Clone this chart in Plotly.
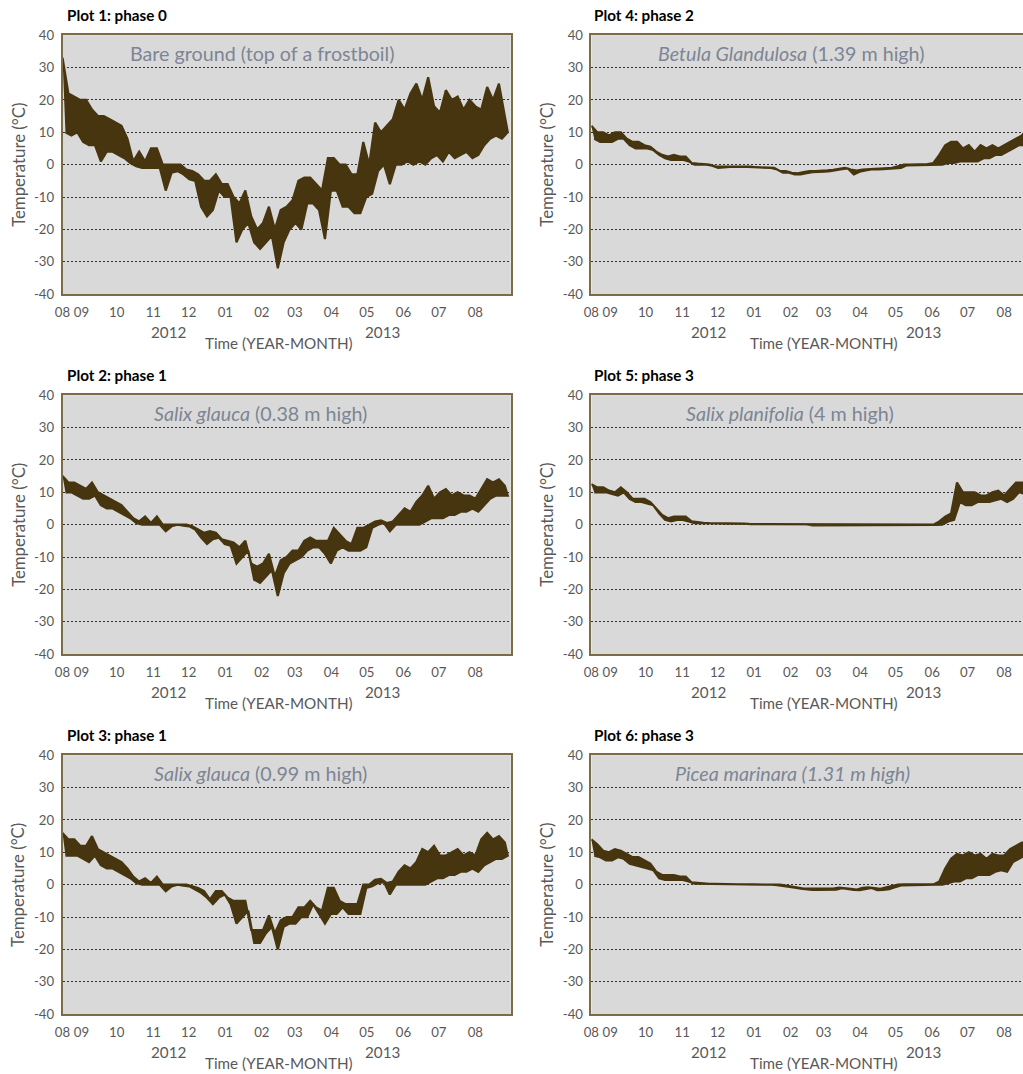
import pandas as pd
import plotly.graph_objects as go

# ---------------------------------------------------------------------------
# Near-surface temperature records, Aug 2012 - Aug 2013.
# Each record is summarised as the high and the low reached in successive
# 5-day windows starting on 2012-08-16; the trace is the band between them.
# ---------------------------------------------------------------------------
SERIES_START = "2012-08-16"
WINDOW_DAYS = 5

# Plot 1: bare ground (top of a frostboil)
P1_HI = [33, 22, 21, 20, 20, 17, 15, 15, 14, 13,
         12, 8, 1, 4, 1, 5, 5, 0, 0, 0,
         0, -1.5, -2, -3, -5, -5, -3, -6, -6, -10,
         -12, -8, -16, -20, -18, -13, -20, -14, -13, -11,
         -5, -4, -4, -6, -8, 2, 2, 0, 0, -3,
         -3, 7, 0, 13, 10, 12, 14, 20, 17, 22,
         25, 20, 27, 18, 16, 23, 20, 21, 17, 20,
         18, 17, 24, 20, 25, 15]
P1_LO = [10, 9, 10, 7, 6, 6, 1, 4, 4, 3,
         2, 0.5, -0.5, -1, -1, -1, -1, -8, -2.5, -2,
         -3, -4.5, -5, -13, -16, -14, -8, -10, -10, -24,
         -20, -18, -24, -26, -24, -22, -32, -24, -20, -18,
         -20, -12, -12, -14, -23, -8, -8, -13, -13, -15,
         -15, -10, -9, -2, 0, -6, 0, 0, 1, 0,
         1, 0, 2, 3, 1, 4, 2, 3, 4, 2,
         3, 6, 8, 9, 8, 10]

# Plot 2: Salix glauca, 0.38 m
P2_HI = [15, 13, 13, 12, 11, 13, 10, 9, 8, 7,
         6, 4, 2, 1, 2.5, 0.5, 2.5, 0, 0, 0,
         0, 0, -0.5, -1.5, -2.5, -2, -2.5, -4.5, -5, -5.5,
         -7, -5, -12, -13, -12, -9, -16, -11, -10, -8,
         -8, -5, -4, -5, -5, -5, -1, -3, -5, -6,
         -1, -1, 0, 1, 1.3, 0.5, 1, 3, 5, 4,
         7, 9, 12, 8, 10, 11, 9, 10, 9, 9,
         8, 11, 14, 13, 14, 12]
P2_LO = [10, 10, 9, 8, 8, 9, 6, 5, 5, 4,
         3, 2, 0.5, 0, 0, 0, 0, -2, -0.5, 0,
         -0.3, -0.5, -1.5, -4, -6, -4.5, -4, -6, -6.5, -12,
         -10, -8, -17, -18, -16, -14, -22, -15, -12, -11,
         -10, -8, -7, -7, -9, -12, -8, -7, -8, -8,
         -8, -7, -1, 0, 0.5, -2, 0, 0, 0, 0,
         0, 1, 2, 2, 2, 3, 3, 4, 4, 5,
         4, 6, 8, 9, 9, 9]

# Plot 3: Salix glauca, 0.99 m
P3_HI = [16, 14, 14, 12, 12, 15, 11, 10, 9, 8,
         7, 5, 2.5, 1, 2, 0.5, 2.5, 0, 0, 0,
         0, 0, -0.5, -1, -2, -4.5, -2, -2, -4, -5,
         -5, -5, -14, -14, -14, -9.5, -15, -11, -10, -10,
         -7, -7, -5, -7, -8, -1, -1, -5, -6, -6,
         -6, 0, 0, 1.5, 1.8, 0.5, 1, 4, 6, 5,
         7, 11, 10, 12, 9, 9, 10, 11, 9, 10,
         9, 14, 16, 14, 15, 13]
P3_LO = [9, 9, 9, 8, 7, 9, 6, 5, 5, 4,
         3, 2, 0.5, 0, 0, 0, 0, -2, -0.5, 0,
         -0.3, -0.5, -1.5, -2.5, -4, -6, -4, -3, -6, -12,
         -10, -8, -18, -18, -15, -13, -20, -13, -12, -12,
         -10, -10, -6, -9, -12, -9, -9, -7, -9, -9,
         -9, -1, -0.5, 0.5, 0.8, -3, 0, 0, 0, 0,
         0, 0, 1, 2, 2, 3, 3, 4, 4, 5,
         4, 6, 7, 8, 8, 9]

# Plot 4: Betula glandulosa, 1.39 m
P4_HI = [12, 10, 10, 9, 10, 10, 8, 7, 7, 6,
         5.5, 4, 3, 2.5, 3, 2.5, 2.5, 0.5, 0.3, 0.2,
         0, -0.5, -0.5, -0.5, -0.5, -0.5, -0.5, -0.6, -0.8, -0.8,
         -0.8, -1, -2, -2, -2.5, -2.7, -2.3, -2, -2, -2,
         -1.8, -1.6, -1.2, -1, -1.5, -1.8, -1.5, -1.3, -1.3, -1.2,
         -1.2, -1, -0.5, 0, 0, 0, 0, 0.2, 0.5, 3,
         6, 7, 7, 5, 6, 4, 6, 5, 6, 5,
         6, 7, 8, 9, 11, 10]
P4_LO = [8, 7, 7, 7, 8, 8, 6, 5, 5, 5,
         4.5, 3, 2, 1.5, 1.5, 1.5, 1, 0, 0, 0,
         -0.3, -1, -0.8, -0.7, -0.6, -0.6, -0.7, -0.8, -1, -1,
         -1, -1.5, -2.5, -2.5, -3, -3, -2.6, -2.3, -2.2, -2.2,
         -2, -1.8, -1.4, -1.2, -3, -2.2, -1.8, -1.5, -1.5, -1.4,
         -1.4, -1.2, -1, -0.2, 0, 0, 0, 0, 0, 0,
         0.5, 0.5, 1, 1, 1, 1, 2, 2, 3, 3,
         4, 5, 6, 6, 8, 8]

# Plot 5: Salix planifolia, 4 m
P5_HI = [12.5, 11.5, 11.5, 10.5, 10, 11.5, 10, 8, 8, 8,
         7, 5, 3, 2, 2.5, 2.5, 2.5, 1, 0.7, 0.6,
         0.5, 0.5, 0.4, 0.4, 0.3, 0.3, 0.3, 0.2, 0.2, 0.2,
         0.2, 0.1, 0.1, 0.1, 0.1, 0.1, 0.1, 0, 0.1, 0.1,
         0, 0, 0, 0, 0, 0, 0, 0, 0, 0,
         0, 0, 0, 0, 0, 0, 0, 0, 0, 1,
         2.5, 3.5, 13, 10, 10, 10, 9, 9, 10, 10.5,
         9, 11, 13, 13, 13, 13]
P5_LO = [10, 10, 10, 9.5, 9, 10, 8, 7, 7, 6.5,
         6, 3.5, 1.5, 1, 1.5, 1.5, 1, 0.5, 0.5, 0.5,
         0.4, 0.4, 0.3, 0.3, 0.3, 0.2, 0.2, 0.2, 0.2, 0.1,
         0.1, 0.1, 0.1, 0.1, 0.1, 0.1, 0.1, -0.2, 0, 0,
         0, 0, 0, 0, 0, 0, 0, 0, 0, 0,
         0, 0, 0, -0.1, -0.1, -0.1, -0.1, -0.1, -0.1, 0,
         1, 1.5, 7, 6, 6, 7, 7, 7, 7.5, 8,
         7, 8, 10, 9.5, 10, 10]

# Plot 6: Picea mariana, 1.31 m
P6_HI = [14, 12.5, 10.5, 10, 11, 10.5, 9.5, 8.5, 8.5, 7.5,
         6.5, 4, 3, 3, 3, 2.5, 2.5, 0.7, 0.5, 0.4,
         0.3, 0.3, 0.2, 0.2, 0.1, 0.1, 0.1, 0.1, 0.1, 0.1,
         0.1, 0, 0, -0.3, -0.6, -0.9, -1.2, -1.2, -1.2, -1.2,
         -1.2, -1.2, -0.9, -1, -1.3, -1.5, -1, -0.8, -1.1, -1.3,
         -0.8, -0.4, 0, 0.1, 0.1, 0.1, 0.1, 0.1, 0.1, 1,
         5, 8, 9.5, 9, 10, 9, 9.5, 8, 9.5, 9,
         9, 11, 12, 13, 13, 12]
P6_LO = [9, 8.5, 7.5, 7.5, 8.5, 8, 6.5, 6, 5.5, 5,
         4.5, 2, 1.5, 1.5, 1.5, 1.5, 1, 0.3, 0.3, 0.3,
         0.2, 0.2, 0.2, 0.1, 0.1, 0.1, 0.1, 0.1, 0.1, 0.1,
         0, -0.1, -0.3, -0.6, -0.9, -1.2, -1.5, -1.6, -1.6, -1.6,
         -1.6, -1.5, -1.1, -1.3, -1.6, -1.7, -1.3, -1, -1.7, -1.6,
         -1.4, -0.8, -0.2, 0, 0, 0, 0, 0, 0, 0,
         0.5, 1, 1, 2, 2, 3, 3, 3, 4, 4.5,
         4, 7, 8, 9, 10, 10]

# Axis labelling
MONTH_TICKS = ["2012-08-16", "2012-09-01", "2012-10-01", "2012-11-01",
               "2012-12-01", "2013-01-01", "2013-02-01", "2013-03-01",
               "2013-04-01", "2013-05-01", "2013-06-01", "2013-07-01",
               "2013-08-01"]
MONTH_LABELS = ["08", "09", "10", "11", "12", "01", "02", "03", "04",
                "05", "06", "07", "08"]
YEAR_LABELS = ["2012", "2013"]
TEMP_TICKS = [-40, -30, -20, -10, 0, 10, 20, 30, 40]
TEMP_LABELS = ["-40", "-30", "-20", "-10", "0", "10", "20", "30", "40"]

PANEL_TITLES = ["Plot 1: phase 0", "Plot 2: phase 1", "Plot 3: phase 1",
                "Plot 4: phase 2", "Plot 5: phase 3", "Plot 6: phase 3"]
PANEL_SITES = ["Bare ground (top of a frostboil)",
               "<i>Salix glauca</i> (0.38 m high)",
               "<i>Salix glauca</i> (0.99 m high)",
               "<i>Betula Glandulosa</i> (1.39 m high)",
               "<i>Salix planifolia</i> (4 m high)",
               "<i>Picea marinara (1.31 m high)</i>"]
PANEL_DATA = [(P1_HI, P1_LO), (P2_HI, P2_LO), (P3_HI, P3_LO),
              (P4_HI, P4_LO), (P5_HI, P5_LO), (P6_HI, P6_LO)]

# ---------------------------------------------------------------------------
# Figure size and the placement of each element.  Placements are written in
# page pixels; the page shows the figure inside the default 8 px body margin
# and scaled by SCALE, so they are converted to figure pixels here.
W, H = 1023, 1074
INSET = 8
SCALE = 0.985

FONT = "Lato"
LINE_COLOR = "#46350f"
FRAME_COLOR = "#7b6b47"
GRID_COLOR = "#333333"
TEXT_GREY = "#595959"
SITE_GREY = "#7d8594"
PX_PER_DAY = 1.171          # page pixels per day along the time axis

start = pd.Timestamp(SERIES_START)


def fig_px(p):
    return p / SCALE - INSET


def fx(p):
    return min(1.0, max(0.0, fig_px(p) / W))


def fy(p):
    return min(1.0, max(0.0, 1 - fig_px(p) / H))


def fs(size):
    return size / SCALE


def hi_lo_band(hi, lo):
    """Closed outline: window highs left to right, then lows right to left."""
    hx, lx = [], []
    for i in range(min(len(hi), len(lo))):
        t0 = start + pd.Timedelta(days=WINDOW_DAYS * i)
        hx.append(t0)
        lx.append(t0 + pd.Timedelta(days=WINDOW_DAYS / 2))
    n = len(hx)
    xs = hx + lx[::-1]
    ys = list(hi[:n]) + list(lo[:n])[::-1]
    return xs, ys


# column geometry (page pixels)
page_right = (W + INSET) * SCALE
COLS = [
    dict(x0=62, x1=507, title_x=64, ytitle_x=18, years=(167, 380),
         xtitle=277, site_x=[260, 259, 259], mirror=True),
    dict(x0=587, x1=page_right, title_x=588, ytitle_x=543,
         years=(703, 917), xtitle=818, site_x=[786, 784, 787],
         mirror=False),
]
for c in COLS:
    c["end"] = start + pd.Timedelta(days=(c["x1"] - c["x0"]) / PX_PER_DAY)

ROW_OFFSETS = [0, 360, 720]
PLOT_TOP, PLOT_BOTTOM = 35, 294

fig = go.Figure()
annotations = []

for k in range(6):
    col = COLS[k // 3]
    row = k % 3
    off = ROW_OFFSETS[row]
    n = k + 1
    xa = "x" if n == 1 else f"x{n}"
    ya = "y" if n == 1 else f"y{n}"

    xs, ys = hi_lo_band(*PANEL_DATA[k])
    fig.add_trace(go.Scatter(
        x=xs, y=ys, mode="lines", xaxis=xa, yaxis=ya, fill="toself",
        fillcolor=LINE_COLOR,
        line=dict(color=LINE_COLOR, width=2.2), showlegend=False,
        hoverinfo="skip",
    ))

    top = PLOT_TOP + off
    bottom = PLOT_BOTTOM + off
    fig.update_layout(**{
        ("xaxis" if n == 1 else f"xaxis{n}"): dict(
            type="date", anchor=ya,
            domain=[fx(col["x0"]), fx(col["x1"])],
            range=[start, col["end"]],
            tickmode="array", tickvals=MONTH_TICKS, ticktext=MONTH_LABELS,
            tickfont=dict(family=FONT, size=fs(13), color=TEXT_GREY),
            ticks="outside", ticklen=5, tickcolor="rgba(0,0,0,0)",
            showgrid=False, zeroline=False,
            showline=True, linecolor=FRAME_COLOR, linewidth=1.5,
            mirror=True, fixedrange=True,
        ),
        ("yaxis" if n == 1 else f"yaxis{n}"): dict(
            anchor=xa,
            domain=[fy(bottom), fy(top)],
            range=[-40, 40],
            tickmode="array", tickvals=TEMP_TICKS, ticktext=TEMP_LABELS,
            tickfont=dict(family=FONT, size=fs(13), color=TEXT_GREY),
            ticks="outside", ticklen=4, tickcolor="rgba(0,0,0,0)",
            showgrid=True, gridcolor=GRID_COLOR, griddash="2px,2px",
            gridwidth=1.4, zeroline=False,
            showline=True, linecolor=FRAME_COLOR, linewidth=1.5,
            mirror=col["mirror"], fixedrange=True,
        ),
    })

    # panel heading
    annotations.append(dict(
        text=f"<b>{PANEL_TITLES[k]}</b>", x=fx(col["title_x"]),
        y=fy(15 + off), xref="paper", yref="paper", xanchor="left",
        yanchor="middle", showarrow=False,
        font=dict(family=FONT, size=fs(15), color="#000000"),
    ))
    # site description inside the plot area
    annotations.append(dict(
        text=PANEL_SITES[k], x=fx(col["site_x"][row]), y=fy(53 + off),
        xref="paper", yref="paper", xanchor="center", yanchor="middle",
        showarrow=False,
        font=dict(family=FONT, size=fs(19.4), color=SITE_GREY),
    ))
    # y-axis title
    annotations.append(dict(
        text="Temperature (°C)", x=fx(col["ytitle_x"]),
        y=fy((top + bottom) / 2), xref="paper", yref="paper",
        xanchor="center", yanchor="middle", textangle=-90,
        showarrow=False,
        font=dict(family=FONT, size=fs(16.5), color=TEXT_GREY),
    ))
    # years under the month ticks
    for yl, yx in zip(YEAR_LABELS, col["years"]):
        annotations.append(dict(
            text=yl, x=fx(yx), y=fy(332 + off), xref="paper", yref="paper",
            xanchor="center", yanchor="middle", showarrow=False,
            font=dict(family=FONT, size=fs(15), color=TEXT_GREY),
        ))
    annotations.append(dict(
        text="Time (YEAR-MONTH)", x=fx(col["xtitle"]), y=fy(343 + off),
        xref="paper", yref="paper", xanchor="center", yanchor="middle",
        showarrow=False, font=dict(family=FONT, size=fs(15), color=TEXT_GREY),
    ))

fig.update_layout(
    width=W, height=H,
    margin=dict(l=0, r=0, t=0, b=0),
    paper_bgcolor="#ffffff",
    plot_bgcolor="#d9d9d9",
    annotations=annotations,
    showlegend=False,
    font=dict(family=FONT, color=TEXT_GREY),
)

fig.write_html("out.html", config={"displayModeBar": False})
